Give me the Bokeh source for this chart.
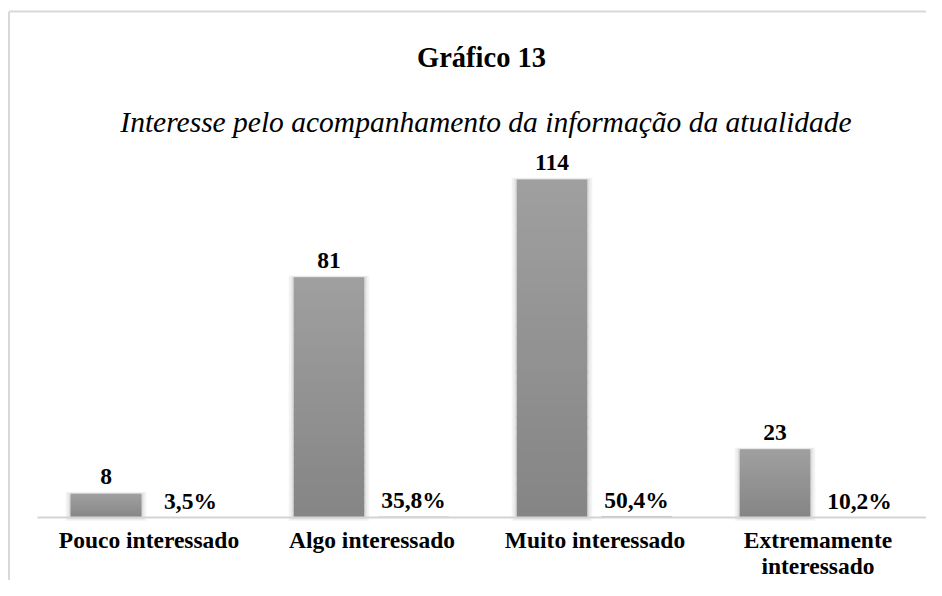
import numpy as np
from bokeh.plotting import figure
from bokeh.models import Range1d
from bokeh.core.properties import value
from bokeh.embed import file_html
from bokeh.resources import INLINE

# ---- data ----
categories = ["Pouco interessado", "Algo interessado", "Muito interessado", "Extremamente\ninteressado"]
counts = [8, 81, 114, 23]
percents = [3.5, 35.8, 50.4, 10.2]
count_labels = ["8", "81", "114", "23"]
percent_labels = ["3,5%", "35,8%", "50,4%", "10,2%"]
title_text = "Gráfico 13"
subtitle_text = "Interesse pelo acompanhamento da informação da atualidade"

# ---- layout (picture pixels -> data units) ----
W, H = 926, 580
CAT0_PX, CAT_STEP = 148.5, 223.0     # centre of first category, spacing
AXIS_PY, PX_PER_UNIT = 517.0, 2.965  # baseline y in picture, px per count


def px2x(px):
    return (px - CAT0_PX) / CAT_STEP


def py2y(py):
    return (AXIS_PY - py) / PX_PER_UNIT


FONT = value("Liberation Serif")
LBL = "23.5px"

p = figure(width=W, height=H, x_range=Range1d(px2x(0), px2x(W)),
           y_range=Range1d(py2y(H), py2y(0)),
           toolbar_location=None, output_backend="svg", min_border=0)
p.xaxis.visible = False
p.yaxis.visible = False
p.xgrid.visible = False
p.ygrid.visible = False
p.outline_line_color = None
p.background_fill_color = "white"
p.border_fill_color = "white"

# chart border (left and top edges; rest runs off the page)
p.segment(x0=[px2x(8.5)], y0=[py2y(11)], x1=[px2x(8.5)], y1=[py2y(640)],
          line_color="#d9d9d9", line_width=2)
p.segment(x0=[px2x(8.5)], y0=[py2y(11)], x1=[px2x(1000)], y1=[py2y(11)],
          line_color="#d9d9d9", line_width=2)

xs = np.arange(len(categories), dtype=float)
off_c = -43.0 / CAT_STEP
off_p = 41.5 / CAT_STEP
bw = 70.5 / CAT_STEP
counts_a = np.array(counts, dtype=float)
pct_a = np.array(percents, dtype=float) / 100.0

# soft shadows behind count bars
for extra, col in [(10, "#f3f3f3"), (6, "#e8e8e8"), (3, "#dadada")]:
    p.vbar(x=xs + off_c, width=bw + extra / CAT_STEP, bottom=-extra / 3 / PX_PER_UNIT,
           top=counts_a + extra / 6 / PX_PER_UNIT, fill_color=col, line_color=None)

# count bars with a vertical gradient (dark bottom -> light top)
N = 30
ovl = 1.2 / PX_PER_UNIT
dark = np.array([0x85, 0x85, 0x85])
light = np.array([0xa0, 0xa0, 0xa0])
bx, bb, bt, bc = [], [], [], []
for i, v in enumerate(counts_a):
    for k in range(N):
        f0, f1 = k / N, (k + 1) / N
        t = (f0 + f1) / 2
        c = (dark + (light - dark) * t).astype(int)
        bx.append(xs[i] + off_c)
        bb.append(max(0.0, v * f0 - ovl))
        bt.append(v * f1)
        bc.append("#%02x%02x%02x" % tuple(c))
p.vbar(x=bx, width=bw, bottom=bb, top=bt, fill_color=bc, line_color=None)

# percent bars (same axis -> almost flat)
p.vbar(x=xs + off_p, width=bw, bottom=0, top=pct_a, fill_color="#bdbdbd", line_color=None)

# baseline axis line
p.segment(x0=[-0.5], y0=[0], x1=[len(categories) - 0.5], y1=[0],
          line_color="#d4d4d4", line_width=2)

# value labels
p.text(x=xs + off_c, y=counts_a, text=count_labels, y_offset=-17,
       text_align="center", text_baseline="alphabetic", text_font=FONT,
       text_font_style="bold", text_font_size=LBL, text_color="black")
p.text(x=xs + off_p, y=pct_a, text=percent_labels, y_offset=-16,
       text_align="center", text_baseline="alphabetic", text_font=FONT,
       text_font_style="bold", text_font_size=LBL, text_color="black")

# category labels
p.text(x=xs, y=[py2y(526)] * len(xs), text=categories,
       text_align="center", text_baseline="top", text_font=FONT,
       text_font_style="bold", text_font_size=LBL, text_color="black",
       text_line_height=1.03)

# titles
p.text(x=[px2x(481)], y=[py2y(57)], text=[title_text], text_align="center",
       text_baseline="alphabetic", text_font=FONT, text_font_style="bold",
       text_font_size="28.5px", text_color="black")
p.text(x=[px2x(485.5)], y=[py2y(121)], text=[subtitle_text], text_align="center",
       text_baseline="alphabetic", text_font=FONT, text_font_style="italic",
       text_font_size="29.5px", text_color="black")

open("out.html", "w").write(file_html(p, INLINE))
